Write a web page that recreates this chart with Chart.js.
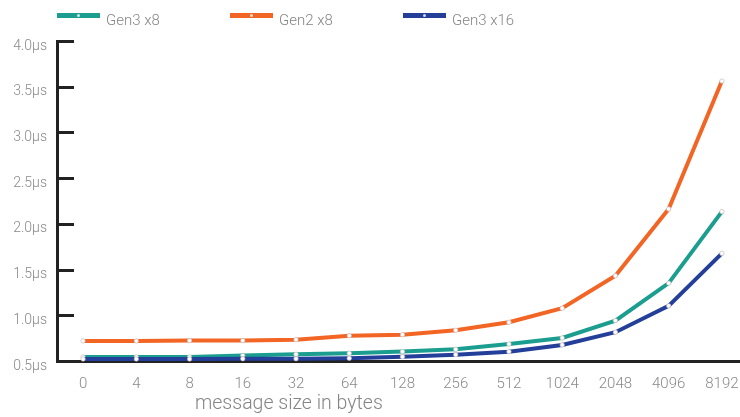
<!DOCTYPE html>
<html>
<head>
<meta charset="utf-8">
<script src="https://cdn.jsdelivr.net/npm/chart.js@4"></script>
<style>
  body { margin: 0; background: #fff; }
  #wrap { position: relative; width: 740px; height: 417px; font-family: Roboto, "Liberation Sans", sans-serif; font-weight: 300; color: #858585; }
  #chart { position: absolute; left: 0; top: 0; }
  .leg { position: absolute; top: 0; height: 30px; }
  .sw { position: absolute; top: 13px; width: 43px; height: 5px; }
  .sw i { position: absolute; left: 20px; top: 1px; width: 3px; height: 3px; border-radius: 50%; background: #fff; opacity: 0.8; }
  .lt { position: absolute; top: 11px; left: 49px; font-size: 15px; white-space: nowrap; }
  #xt { position: absolute; left: 195px; top: 391px; font-size: 19.5px; white-space: nowrap; }
</style>
</head>
<body>
<div id="wrap">
  <canvas id="chart" width="740" height="417"></canvas>
  <div id="legend"></div>
  <div id="xt">message size in bytes</div>
</div>
<script>
const categories = ['0', '4', '8', '16', '32', '64', '128', '256', '512', '1024', '2048', '4096', '8192'];
const seriesNames = ['Gen3 x8', 'Gen2 x8', 'Gen3 x16'];
const gen3x8 = [0.544, 0.544, 0.544, 0.559, 0.574, 0.585, 0.603, 0.628, 0.686, 0.752, 0.942, 1.352, 2.134];
const gen2x8 = [0.72, 0.72, 0.723, 0.723, 0.733, 0.777, 0.788, 0.836, 0.924, 1.077, 1.432, 2.163, 3.562];
const gen3x16 = [0.522, 0.522, 0.522, 0.525, 0.525, 0.53, 0.547, 0.569, 0.602, 0.676, 0.815, 1.103, 1.677];
const yTicks = [0.5, 1.0, 1.5, 2.0, 2.5, 3.0, 3.5, 4.0];

const colors = ['#1b9e90', '#f26524', '#233f99'];
const allSeries = [gen3x8, gen2x8, gen3x16];

// legend across the top
const legend = document.getElementById('legend');
seriesNames.forEach(function (name, i) {
    const item = document.createElement('div');
    item.className = 'leg';
    item.style.left = (57 + i * 173) + 'px';
    item.innerHTML = '<div class="sw" style="background:' + colors[i] + '"><i></i></div><div class="lt">' + name + '</div>';
    legend.appendChild(item);
});

// short tick marks pointing into the plot from the y axis
const innerTicks = {
    id: 'innerTicks',
    afterDatasetsDraw(chart) {
        const ctx = chart.ctx;
        const y = chart.scales.y;
        const left = chart.chartArea.left;
        ctx.save();
        ctx.strokeStyle = '#222';
        ctx.lineWidth = 3;
        y.ticks.forEach(function (t) {
            const py = Math.round(y.getPixelForValue(t.value)) + 0.5;
            ctx.beginPath();
            ctx.moveTo(left, py);
            ctx.lineTo(left + 17, py);
            ctx.stroke();
        });
        ctx.restore();
    }
};

const chart = new Chart(document.getElementById('chart'), {
    type: 'line',
    data: {
        datasets: allSeries.map(function (vals, i) {
            return {
                label: seriesNames[i],
                data: vals.map(function (v, k) { return { x: k, y: v }; }),
                borderColor: colors[i],
                backgroundColor: colors[i],
                borderWidth: 4,
                tension: 0,
                clip: false,
                pointRadius: 2.2,
                pointBackgroundColor: '#fff',
                pointBorderColor: 'rgba(200,185,185,0.7)',
                pointBorderWidth: 1,
                order: i === 2 ? 0 : i + 1
            };
        })
    },
    options: {
        responsive: false,
        animation: false,
        layout: { autoPadding: false, padding: { top: 41, right: 0, left: 0, bottom: 0 } },
        plugins: {
            legend: { display: false },
            tooltip: { enabled: false }
        },
        scales: {
            x: {
                type: 'linear',
                min: -0.49,
                max: 12.34,
                afterBuildTicks: function (scale) {
                    scale.ticks = categories.map(function (c, i) { return { value: i }; });
                },
                afterFit: function (scale) {
                    scale.height = 56;
                    scale.paddingLeft = 0;
                    scale.paddingRight = 0;
                },
                grid: { display: false, drawTicks: false },
                border: { display: true, color: '#222', width: 3 },
                ticks: {
                    autoSkip: false,
                    maxRotation: 0,
                    padding: 14,
                    color: '#8a8a8a',
                    font: { family: 'Roboto', weight: 300, size: 15 },
                    callback: function (v) { return categories[v]; }
                }
            },
            y: {
                min: yTicks[0],
                max: yTicks[yTicks.length - 1],
                afterBuildTicks: function (scale) {
                    scale.ticks = yTicks.map(function (v) { return { value: v }; });
                },
                afterFit: function (scale) {
                    scale.width = 57;
                    scale.paddingTop = 0;
                    scale.paddingBottom = 0;
                },
                grid: { display: false, drawTicks: false },
                border: { display: true, color: '#222', width: 3 },
                ticks: {
                    padding: 10,
                    labelOffset: 5,
                    color: '#8a8a8a',
                    font: { family: 'Roboto', weight: 300, size: 14 },
                    callback: function (v) { return v.toFixed(1) + 'µs'; }
                }
            }
        }
    },
    plugins: [innerTicks]
});
</script>
</body>
</html>
